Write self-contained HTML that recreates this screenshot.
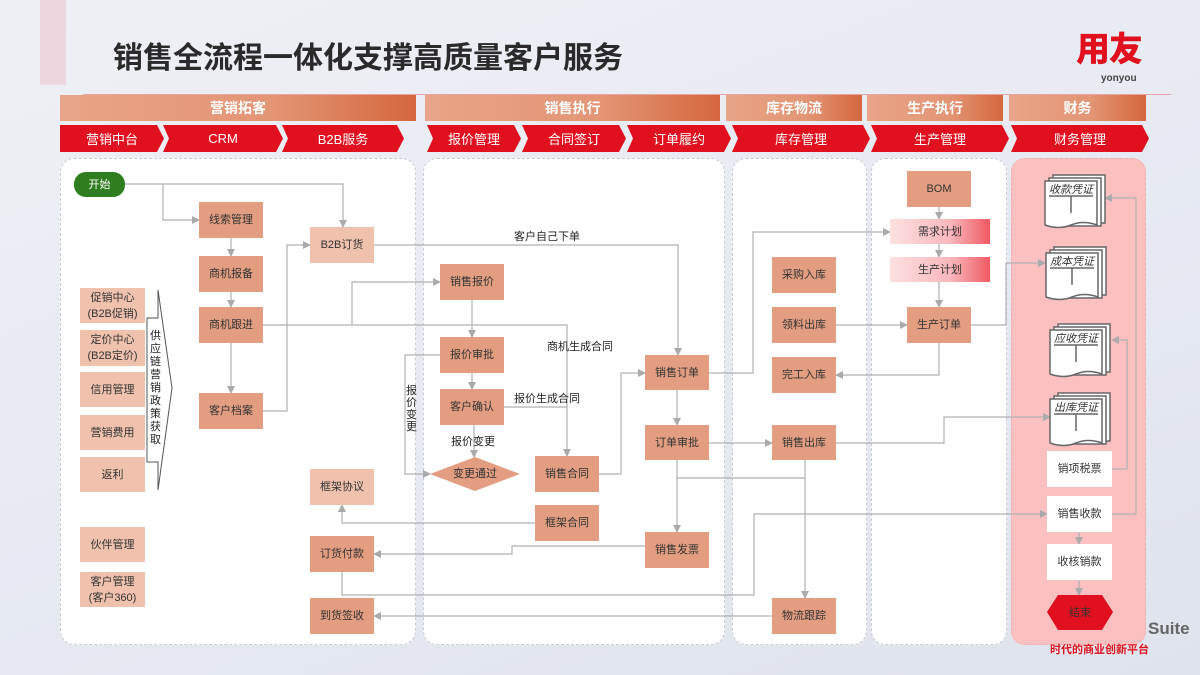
<!DOCTYPE html>
<html><head><meta charset="utf-8"><style>
*{margin:0;padding:0;box-sizing:border-box}
body{width:1200px;height:675px;overflow:hidden;position:relative;font-family:"Liberation Sans","Noto Sans CJK SC",sans-serif;background:linear-gradient(160deg,#eef0f5 0%,#e6e9f1 60%,#dfe3ec 100%)}
.a{position:absolute}
.n{position:absolute;display:flex;align-items:center;justify-content:center;text-align:center;font-size:11px;color:#333;background:#e39d80;line-height:16px}
.l{background:#f0c2ae}
.w{background:#fff}
.cat{position:absolute;top:95px;height:26px;color:#fff;font-weight:bold;font-size:14px;display:flex;align-items:center;justify-content:center;background:linear-gradient(90deg,#e8a587,#e39574 60%,#d4673e)}
.sub{position:absolute;top:125px;height:27px;color:#fff;font-size:13px;display:flex;align-items:center;justify-content:center;background:#e0101e;clip-path:polygon(0 0,calc(100% - 7px) 0,100% 50%,calc(100% - 7px) 100%,0 100%,6px 50%)}
.pn{position:absolute;top:158px;height:487px;background:#fff;border:1.5px dashed #c8ccd4;border-radius:14px}
.lb{position:absolute;font-size:11px;color:#222;background:transparent}
</style></head><body>
<div class="a" style="left:40px;top:0;width:26px;height:85px;background:#ecd7df"></div>
<div class="a" style="left:113px;top:33px;font-size:30px;font-weight:bold;color:#2a2a2a;letter-spacing:0">销售全流程一体化支撑高质量客户服务</div>
<div class="a" style="left:83px;top:94px;width:1088px;height:1px;background:#e7a3a8"></div>
<div class="a" style="left:1076px;top:30px;font-size:34px;line-height:40px;font-weight:900;color:#e0101e;letter-spacing:-1px">用友</div>
<div class="a" style="left:1101px;top:73px;font-size:10px;font-weight:bold;color:#444">yonyou</div>

<div class="cat" style="left:60px;width:356px">营销拓客</div>
<div class="cat" style="left:425px;width:295px">销售执行</div>
<div class="cat" style="left:726px;width:136px">库存物流</div>
<div class="cat" style="left:867px;width:136px">生产执行</div>
<div class="cat" style="left:1009px;width:137px">财务</div>

<div class="sub" style="left:60px;width:104px;clip-path:polygon(0 0,calc(100% - 7px) 0,100% 50%,calc(100% - 7px) 100%,0 100%)">营销中台</div>
<div class="sub" style="left:163px;width:120px">CRM</div>
<div class="sub" style="left:282px;width:122px">B2B服务</div>
<div class="sub" style="left:427px;width:94px">报价管理</div>
<div class="sub" style="left:522px;width:104px">合同签订</div>
<div class="sub" style="left:627px;width:104px">订单履约</div>
<div class="sub" style="left:732px;width:138px">库存管理</div>
<div class="sub" style="left:871px;width:138px">生产管理</div>
<div class="sub" style="left:1011px;width:138px">财务管理</div>

<div class="pn" style="left:60px;width:356px"></div>
<div class="pn" style="left:423px;width:302px"></div>
<div class="pn" style="left:732px;width:135px"></div>
<div class="pn" style="left:871px;width:136px"></div>
<div class="a" style="left:1148px;top:619px;font-size:17px;font-weight:bold;color:#666">Suite</div>
<div class="pn" style="left:1011px;width:135px;background:#fcc0c0;border-color:#f4b0b0"></div>
<div class="a" style="left:1050px;top:641px;font-size:11px;font-weight:bold;color:#e0101e">时代的商业创新平台</div>

<svg class="a" style="left:0;top:0" width="1200" height="675">
<defs><marker id="ar" markerWidth="8" markerHeight="8" refX="7" refY="4" orient="auto" markerUnits="userSpaceOnUse"><path d="M0,0 L8,4 L0,8 z" fill="#aaa"/></marker></defs>
<g fill="none" stroke="#b0b0b0" stroke-width="1.2">
<polyline points="125,184 343,184 343,227" marker-end="url(#ar)"/>
<polyline points="163,184 163,220 199,220" marker-end="url(#ar)"/>
<line x1="231" y1="238" x2="231" y2="256" marker-end="url(#ar)"/>
<line x1="231" y1="292" x2="231" y2="307" marker-end="url(#ar)"/>
<line x1="231" y1="343" x2="231" y2="393" marker-end="url(#ar)"/>
<polyline points="263,411 287,411 287,245 310,245" marker-end="url(#ar)"/>
<polyline points="263,325 567,325 567,456" marker-end="url(#ar)"/>
<polyline points="352,325 352,282 440,282" marker-end="url(#ar)"/>
<polyline points="374,245 678,245 678,355" marker-end="url(#ar)"/>
<line x1="472" y1="300" x2="472" y2="337" marker-end="url(#ar)"/>
<line x1="472" y1="373" x2="472" y2="389" marker-end="url(#ar)"/>
<line x1="474" y1="425" x2="474" y2="457" marker-end="url(#ar)"/>
<polyline points="440,355 405,355 405,474 430,474" marker-end="url(#ar)"/>
<line x1="504" y1="407" x2="567" y2="407"/>
<polyline points="599,474 621,474 621,373 645,373" marker-end="url(#ar)"/>
<polyline points="535,523 342,523 342,505" marker-end="url(#ar)"/>
<polyline points="709,373 753,373 753,232 890,232" marker-end="url(#ar)"/>
<line x1="677" y1="390" x2="677" y2="425" marker-end="url(#ar)"/>
<line x1="677" y1="460" x2="677" y2="532" marker-end="url(#ar)"/>
<line x1="709" y1="443" x2="772" y2="443" marker-end="url(#ar)"/>
<line x1="677" y1="478" x2="805" y2="478"/>
<line x1="805" y1="460" x2="805" y2="598" marker-end="url(#ar)"/>
<polyline points="836,443 944,443 944,417 1050,417" marker-end="url(#ar)"/>
<polyline points="645,546 512,546 512,554 374,554" marker-end="url(#ar)"/>
<polyline points="342,572 342,595 754,595 754,514 1047,514" marker-end="url(#ar)"/>
<line x1="772" y1="616" x2="374" y2="616" marker-end="url(#ar)"/>
<line x1="939" y1="207" x2="939" y2="219" marker-end="url(#ar)"/>
<line x1="939" y1="244" x2="939" y2="257" marker-end="url(#ar)"/>
<line x1="939" y1="282" x2="939" y2="307" marker-end="url(#ar)"/>
<line x1="836" y1="325" x2="907" y2="325" marker-end="url(#ar)"/>
<polyline points="939,343 939,375 836,375" marker-end="url(#ar)"/>
<polyline points="971,325 1006,325 1006,263 1045,263" marker-end="url(#ar)"/>
<polyline points="1112,469 1127,469 1127,340 1112,340" marker-end="url(#ar)"/>
<polyline points="1112,514 1136,514 1136,198 1105,198" marker-end="url(#ar)"/>
<line x1="1079" y1="532" x2="1079" y2="544" marker-end="url(#ar)"/>
<line x1="1079" y1="580" x2="1079" y2="595" marker-end="url(#ar)"/>
</g>
<polygon points="147,318 158,318 158,290 172,388 158,490 158,462 147,462" fill="#fff" stroke="#555" stroke-width="1"/>
<polygon points="430,474 475,457 520,474 475,491" fill="#e39d80"/>
<polygon points="1058,595 1102,595 1113,612 1102,630 1058,630 1047,612" fill="#e0101e"/>
<g fill="#fff" stroke="#666" stroke-width="1.5">
<g transform="translate(1045,173)"><rect x="8" y="2" width="52" height="48"/><rect x="4" y="5" width="52" height="48"/><path d="M0,8 H52 V52 Q38,47 26,52 T0,52 Z"/><path d="M4,23 H48 M26,23 V40" /></g>
<g transform="translate(1046,245)"><rect x="8" y="2" width="52" height="48"/><rect x="4" y="5" width="52" height="48"/><path d="M0,8 H52 V52 Q38,47 26,52 T0,52 Z"/><path d="M4,23 H48 M26,23 V40" /></g>
<g transform="translate(1050,322)"><rect x="8" y="2" width="52" height="48"/><rect x="4" y="5" width="52" height="48"/><path d="M0,8 H52 V52 Q38,47 26,52 T0,52 Z"/><path d="M4,23 H48 M26,23 V40" /></g>
<g transform="translate(1050,391)"><rect x="8" y="2" width="52" height="48"/><rect x="4" y="5" width="52" height="48"/><path d="M0,8 H52 V52 Q38,47 26,52 T0,52 Z"/><path d="M4,23 H48 M26,23 V40" /></g>
</g>
<g font-size="11" font-style="italic" fill="#333" text-anchor="middle" font-family="Liberation Sans,Noto Sans CJK SC,sans-serif">
<text x="1071" y="193">收款凭证</text><text x="1072" y="265">成本凭证</text><text x="1076" y="342">应收凭证</text><text x="1076" y="411">出库凭证</text>
</g>
</svg>

<div class="n" style="left:74px;top:172px;width:51px;height:25px;background:#2e7d1f;color:#fff;border-radius:12px">开始</div>
<div class="n" style="left:199px;top:202px;width:64px;height:36px">线索管理</div>
<div class="n" style="left:199px;top:256px;width:64px;height:36px">商机报备</div>
<div class="n" style="left:199px;top:307px;width:64px;height:36px">商机跟进</div>
<div class="n" style="left:199px;top:393px;width:64px;height:36px">客户档案</div>
<div class="n l" style="left:310px;top:227px;width:64px;height:36px">B2B订货</div>
<div class="n l" style="left:80px;top:288px;width:65px;height:35px">促销中心<br>(B2B促销)</div>
<div class="n l" style="left:80px;top:330px;width:65px;height:36px">定价中心<br>(B2B定价)</div>
<div class="n l" style="left:80px;top:372px;width:65px;height:35px">信用管理</div>
<div class="n l" style="left:80px;top:415px;width:65px;height:35px">营销费用</div>
<div class="n l" style="left:80px;top:457px;width:65px;height:35px">返利</div>
<div class="n l" style="left:80px;top:527px;width:65px;height:35px">伙伴管理</div>
<div class="n l" style="left:80px;top:572px;width:65px;height:35px">客户管理<br>(客户360)</div>
<div class="a" style="left:150px;top:330px;width:12px;font-size:11px;line-height:13px;color:#222">供应链营销政策获取</div>
<div class="n l" style="left:310px;top:469px;width:64px;height:36px">框架协议</div>
<div class="n" style="left:310px;top:536px;width:64px;height:36px">订货付款</div>
<div class="n" style="left:310px;top:598px;width:64px;height:36px">到货签收</div>
<div class="n" style="left:440px;top:264px;width:64px;height:36px">销售报价</div>
<div class="n" style="left:440px;top:337px;width:64px;height:36px">报价审批</div>
<div class="n" style="left:440px;top:389px;width:64px;height:36px">客户确认</div>
<div class="n" style="left:440px;top:465px;width:70px;height:18px;background:transparent">变更通过</div>
<div class="n" style="left:535px;top:456px;width:64px;height:36px">销售合同</div>
<div class="n" style="left:535px;top:505px;width:64px;height:36px">框架合同</div>
<div class="n" style="left:645px;top:355px;width:64px;height:35px">销售订单</div>
<div class="n" style="left:645px;top:425px;width:64px;height:35px">订单审批</div>
<div class="n" style="left:645px;top:532px;width:64px;height:36px">销售发票</div>
<div class="n" style="left:772px;top:257px;width:64px;height:36px">采购入库</div>
<div class="n" style="left:772px;top:307px;width:64px;height:36px">领料出库</div>
<div class="n" style="left:772px;top:357px;width:64px;height:36px">完工入库</div>
<div class="n" style="left:772px;top:425px;width:64px;height:35px">销售出库</div>
<div class="n" style="left:772px;top:598px;width:64px;height:36px">物流跟踪</div>
<div class="n" style="left:907px;top:171px;width:64px;height:36px">BOM</div>
<div class="n" style="left:890px;top:219px;width:100px;height:25px;background:linear-gradient(90deg,#fde0e0,#f9b8bc 60%,#f05a64)">需求计划</div>
<div class="n" style="left:890px;top:257px;width:100px;height:25px;background:linear-gradient(90deg,#fde0e0,#f9b8bc 60%,#f05a64)">生产计划</div>
<div class="n" style="left:907px;top:307px;width:64px;height:36px">生产订单</div>
<div class="n w" style="left:1047px;top:451px;width:65px;height:36px">销项税票</div>
<div class="n w" style="left:1047px;top:496px;width:65px;height:36px">销售收款</div>
<div class="n w" style="left:1047px;top:544px;width:65px;height:36px">收核销款</div>
<div class="n" style="left:1047px;top:595px;width:66px;height:35px;background:transparent;color:#333">结束</div>

<div class="lb" style="left:514px;top:228px">客户自己下单</div>
<div class="lb" style="left:547px;top:338px">商机生成合同</div>
<div class="lb" style="left:514px;top:390px">报价生成合同</div>
<div class="lb" style="left:451px;top:433px">报价变更</div>
<div class="lb" style="left:406px;top:385px;width:12px;line-height:12px">报价变更</div>
</body></html>
